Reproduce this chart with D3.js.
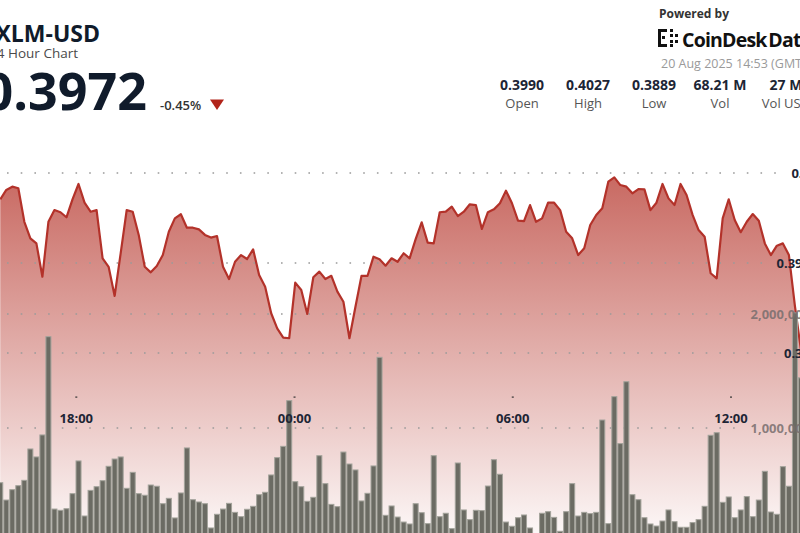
<!DOCTYPE html>
<html><head><meta charset="utf-8">
<script src="https://cdn.jsdelivr.net/npm/d3@7/dist/d3.min.js"></script>
<style>body{margin:0;background:#fff}svg{display:block;font-family:"Open Sans",sans-serif}</style>
</head><body><svg id="c" width="800" height="533"></svg>
<script>
// ---- data ----
const startTime = Date.UTC(2025, 7, 19, 15, 49, 36); // first bucket shown
const bucketMs = 86400000 / 145;                    // 145 buckets per 24 hours
const volumes = [520000,368000,459000,494000,541000,816000,746000,939000,1801000,289000,278000,292000,424000,711000,228000,453000,485000,538000,664000,728000,746000,471000,611000,424000,410000,500000,489000,336000,383000,211000,430000,825000,371000,351000,336000,123000,243000,289000,339000,260000,222000,287000,313000,415000,436000,588000,740000,839000,1240000,529000,485000,357000,392000,757000,512000,330000,310000,789000,684000,632000,360000,427000,667000,1620000,234000,316000,219000,175000,158000,336000,257000,161000,757000,222000,252000,117000,693000,281000,196000,278000,275000,491000,722000,594000,175000,138000,213000,237000,123000,60000,252000,266000,216000,94000,266000,512000,228000,260000,249000,260000,1070000,161000,1275000,863000,1406000,415000,371000,213000,158000,140000,184000,281000,178000,129000,129000,170000,196000,313000,936000,959000,348000,395000,213000,281000,398000,222000,368000,620000,263000,243000,661000,489000,2010000,1440000];
const prices = [0.39854,0.39906,0.39924,0.39915,0.39729,0.39637,0.39609,0.39424,0.39729,0.39794,0.39782,0.39754,0.39854,0.39939,0.39835,0.39785,0.39794,0.39526,0.39479,0.39317,0.39554,0.39794,0.39785,0.39656,0.39479,0.39448,0.39483,0.39544,0.39674,0.39748,0.39771,0.39696,0.39696,0.39687,0.39656,0.39641,0.39650,0.39479,0.39411,0.39507,0.39544,0.39522,0.39576,0.39433,0.39368,0.39221,0.39137,0.39085,0.39082,0.39391,0.39350,0.39217,0.39421,0.39452,0.39411,0.39429,0.39341,0.39285,0.39082,0.39257,0.39428,0.39428,0.39535,0.39521,0.39485,0.39526,0.39507,0.39554,0.39526,0.39633,0.39726,0.39613,0.39609,0.39782,0.39785,0.39813,0.39761,0.39785,0.39826,0.39822,0.39689,0.39782,0.39798,0.39832,0.39902,0.39832,0.39735,0.39733,0.39822,0.39729,0.39748,0.39835,0.39835,0.39794,0.39674,0.39637,0.39544,0.39582,0.39711,0.39767,0.39804,0.39952,0.39976,0.39933,0.39924,0.39887,0.39911,0.39909,0.39794,0.39835,0.39939,0.39859,0.39822,0.39939,0.39878,0.39767,0.39683,0.39646,0.39443,0.39415,0.39748,0.39854,0.39739,0.39671,0.39729,0.39772,0.39735,0.39609,0.39544,0.39596,0.39609,0.39544,0.39261,0.39017];
const timeTicks = ["18:00","00:00","06:00","12:00"];
const timeTickDates = [Date.UTC(2025,7,19,18), Date.UTC(2025,7,20,0), Date.UTC(2025,7,20,6), Date.UTC(2025,7,20,12)];
const priceTicks = [0.4, 0.395, 0.39];
const volumeTicks = [1000000, 2000000];
const statValues = ["0.3990","0.4027","0.3889","68.21 M","27 M"];
const statLabels = ["Open","High","Low","Vol","Vol USD"];
const symbol = "XLM-USD", subtitle = "24 Hour Chart", lastPrice = "0.3972", change = "-0.45%";
const stamp = "20 Aug 2025 14:53 (GMT)";

// ---- scales ----
const svg = d3.select("#c");
const x = d3.scaleUtc().domain([timeTickDates[0], timeTickDates[3]]).range([76.3, 731]);
const yP = d3.scaleLinear().domain([0.39, 0.40]).range([353, 173]);
const yV = d3.scaleLinear().domain([0, 2000000]).range([542, 314]);
const times = volumes.map((_, i) => new Date(startTime + i * bucketMs));
const step = x(new Date(startTime + bucketMs)) - x(new Date(startTime));

// gradient
const defs = svg.append("defs");
const g = defs.append("linearGradient").attr("id","ag").attr("gradientUnits","userSpaceOnUse")
  .attr("x1",0).attr("x2",0).attr("y1",175).attr("y2",533);
g.append("stop").attr("offset",0).attr("stop-color","rgb(181,52,42)").attr("stop-opacity",0.74);
g.append("stop").attr("offset",1).attr("stop-color","rgb(181,52,42)").attr("stop-opacity",0.04);

const px = (d, i) => x(times[i]) + step / 2;
svg.append("path").datum(prices)
  .attr("d", d3.area().x(px).y0(560).y1(d => yP(d)))
  .attr("fill","url(#ag)");

// gridlines + labels
const labelsG = svg.append("g");
function hGrid(y, text, color) {
  const t = labelsG.append("text").attr("x", 810).attr("y", y).attr("dy","0.35em")
    .attr("text-anchor","end").attr("font-size",13).attr("font-weight",700).attr("fill",color).text(text);
  const w = t.node().getComputedTextLength();
  svg.insert("line", "g").attr("x1", 7).attr("x2", 810 - w - 5).attr("y1", y).attr("y2", y)
    .attr("stroke","#9a9a9a").attr("stroke-width",1.6).attr("stroke-dasharray","1.6 12.1");
}
priceTicks.forEach(v => hGrid(yP(v), String(v), "#1d2535"));
volumeTicks.forEach(v => hGrid(yV(v), d3.format(",")(v), "rgba(120,110,110,0.85)"));

// bars
svg.insert("g","g").selectAll("rect").data(volumes).join("rect")
  .attr("x", (d, i) => x(times[i]) + 0.5)
  .attr("width", step - 1)
  .attr("y", d => yV(d))
  .attr("height", d => yV(0) - yV(d))
  .attr("fill","#6b6b63").attr("stroke","#a3a39b").attr("stroke-width",1);

// line
svg.insert("path","g").datum(prices)
  .attr("d", d3.line().x(px).y(d => yP(d)))
  .attr("fill","none").attr("stroke","#b3322a").attr("stroke-width",2.2).attr("stroke-linejoin","round");

// time axis
timeTicks.forEach((t, i) => {
  const xx = x(timeTickDates[i]);
  svg.append("rect").attr("x", xx - 1).attr("y", 396.5).attr("width", 2).attr("height", 1.2).attr("fill","#333");
  svg.append("text").attr("x", xx).attr("y", 423).attr("text-anchor","middle")
    .attr("font-size",13).attr("font-weight",700).attr("fill","#1d2535").text(t);
});

// header left
svg.append("text").attr("x",100).attr("y",42).attr("text-anchor","end").attr("font-size",23).attr("font-weight",700).attr("fill","#101b2b").text(symbol);
svg.append("text").attr("x",78).attr("y",58).attr("text-anchor","end").attr("font-size",13.5).attr("fill","#4a4a4a").text(subtitle);
svg.append("text").attr("x",147).attr("y",110).attr("text-anchor","end").attr("font-size",52).attr("font-weight",700).attr("fill","#101b2b").text(lastPrice);
svg.append("text").attr("x",160).attr("y",110).attr("font-size",13).attr("font-weight",600).attr("fill","#333").text(change);
svg.append("path").attr("d","M210,99.5L224,99.5L217,110Z").attr("fill","#b2241a");

// header right
svg.append("text").attr("x",659).attr("y",18).attr("font-size",12).attr("font-weight",700).attr("fill","#333").text("Powered by");
const logo = svg.append("g").attr("fill","#111");
[[658,29,3,18],[658,29,8,3],[658,44,8,3],[664,29,3,3],[664,44,3,3],[670,29,3,3],[670,44,3,3],[662,36,3,3],[670,34,3,3],[670,40,3,3],[675,34,3,3],[675,40,3,3]]
  .forEach(r => logo.append("rect").attr("x",r[0]).attr("y",r[1]).attr("width",r[2]).attr("height",r[3]));
svg.append("text").attr("x",682).attr("y",46.5).attr("font-size",19.5).attr("font-weight",700).attr("letter-spacing",-0.8).attr("word-spacing",-2.5).attr("fill","#111").text("CoinDesk Data");
svg.append("text").attr("x",661).attr("y",68).attr("font-size",12.5).attr("fill","#9a9a9a").text(stamp);
statValues.forEach((v, i) => {
  const cx = 522 + i * 66;
  svg.append("text").attr("x",cx).attr("y",90).attr("text-anchor","middle").attr("font-size",14).attr("font-weight",700).attr("fill","#1d2535").text(v);
  svg.append("text").attr("x",cx).attr("y",108).attr("text-anchor","middle").attr("font-size",13).attr("fill","#555").text(statLabels[i]);
});
</script></body></html>
